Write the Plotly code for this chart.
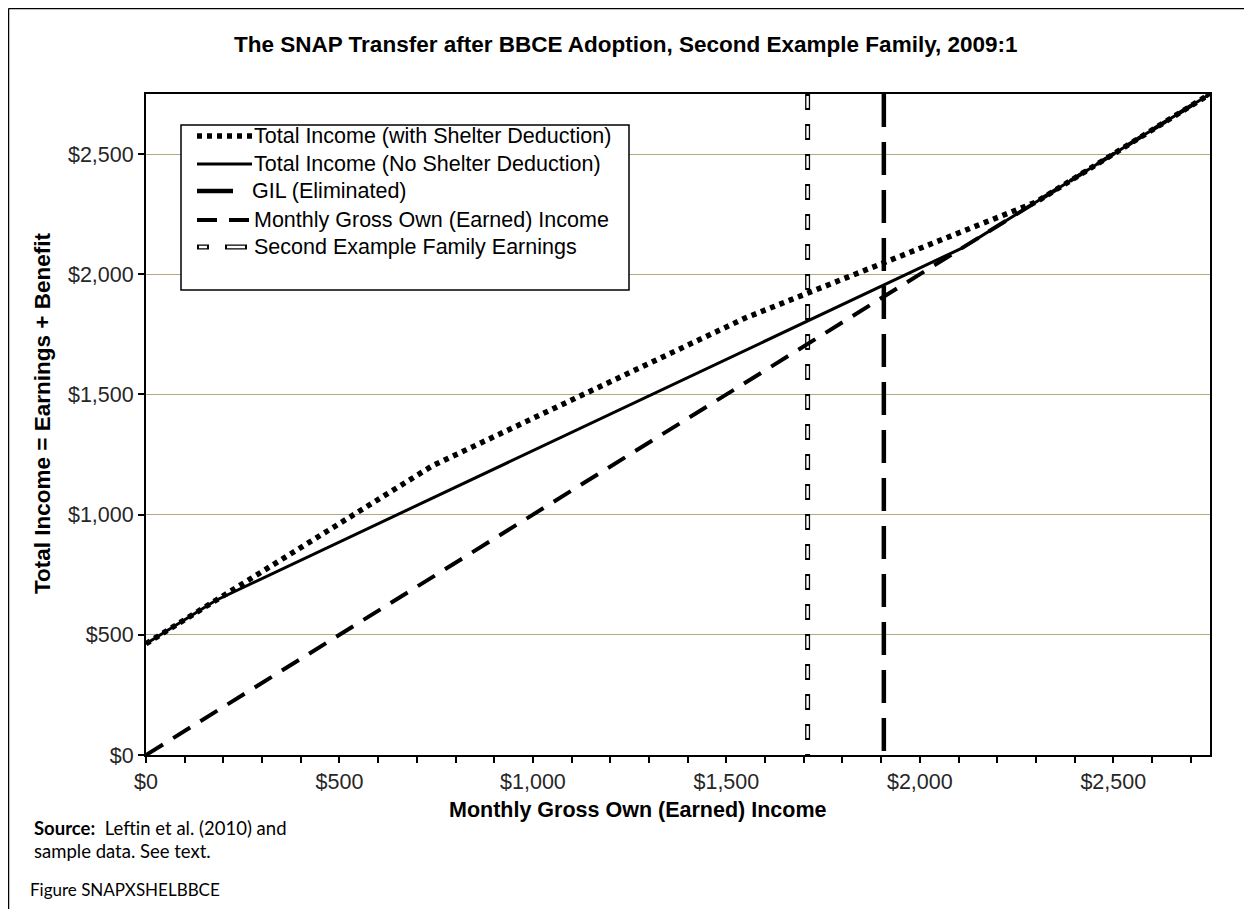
import plotly.graph_objects as go

# ---------------- data ----------------
earnings_no_shelter = [0, 180, 2109, 2750]
total_no_shelter = [463, 643, 2109, 2750]

earnings_with_shelter = [0, 740, 1550, 2300, 2750]
total_with_shelter = [463, 1203, 1819, 2300, 2750]

earnings_gross = [0, 2750]
gross_income = [0, 2750]

gil_eliminated = 1907
family_earnings = 1710
axis_max = 2750

x_ticks = [0, 500, 1000, 1500, 2000, 2500]
x_tick_labels = ["$0", "$500", "$1,000", "$1,500", "$2,000", "$2,500"]
y_ticks = [0, 500, 1000, 1500, 2000, 2500]
y_tick_labels = ["$0", "$500", "$1,000", "$1,500", "$2,000", "$2,500"]

legend_labels = [
    "Total Income (with Shelter Deduction)",
    "Total Income (No Shelter Deduction)",
    "GIL (Eliminated)",
    "Monthly Gross Own (Earned) Income",
    "Second Example Family Earnings",
]

# ---------------- layout geometry (page pixel coordinates) ----------------
OFF = 8                      # page body margin
PAGE_W, PAGE_H = 1252, 909
W, H = PAGE_W - OFF, PAGE_H - OFF
P_L, P_R, P_T, P_B = 146, 1210, 94, 755   # plot area edges on the page
L, R, T, B = P_L - OFF, W - (P_R - OFF), P_T - OFF, H - (P_B - OFF)
PW, PH = W - L - R, H - T - B
FONT = "Liberation Sans, Arial, sans-serif"


def fx(px):
    return (px - OFF - L) / PW


def fy(py):
    return (H - B - (py - OFF)) / PH


fig = go.Figure()

# vertical reference lines (drawn from top to bottom so dashes start at the top)
fig.add_trace(go.Scatter(x=[family_earnings, family_earnings], y=[axis_max, 0], mode="lines",
                         line=dict(color="black", width=5, dash="16px,14px"),
                         showlegend=False, hoverinfo="skip"))
fig.add_trace(go.Scatter(x=[family_earnings, family_earnings], y=[axis_max, 0], mode="lines",
                         line=dict(color="white", width=2.4, dash="0px,2px,12px,16px"),
                         showlegend=False, hoverinfo="skip"))
fig.add_trace(go.Scatter(x=[gil_eliminated, gil_eliminated], y=[axis_max, 0], mode="lines",
                         line=dict(color="black", width=4.5, dash="33px,15px"),
                         showlegend=False, hoverinfo="skip"))

# income lines
fig.add_trace(go.Scatter(x=earnings_gross, y=gross_income, mode="lines",
                         line=dict(color="black", width=4, dash="20px,12px"),
                         showlegend=False))
fig.add_trace(go.Scatter(x=earnings_no_shelter, y=total_no_shelter, mode="lines",
                         line=dict(color="black", width=3),
                         showlegend=False))
fig.add_trace(go.Scatter(x=earnings_with_shelter, y=total_with_shelter, mode="lines",
                         line=dict(color="black", width=5.5, dash="5px,5px"),
                         showlegend=False))

shapes = []
annotations = []

# outer frame (top and left edges)
shapes.append(dict(type="line", xref="paper", yref="paper", x0=fx(OFF + 0.5), x1=fx(PAGE_W), y0=fy(OFF + 0.5),
                   y1=fy(OFF + 0.5), line=dict(color="black", width=1.5)))
shapes.append(dict(type="line", xref="paper", yref="paper", x0=fx(OFF + 0.5), x1=fx(OFF + 0.5), y0=fy(OFF + 0.5),
                   y1=fy(PAGE_H), line=dict(color="black", width=1.5)))

# manual legend
lx0, lx1, ly0, ly1 = 181, 629, 125, 290
shapes.append(dict(type="rect", xref="paper", yref="paper", x0=fx(lx0), x1=fx(lx1), y0=fy(ly0), y1=fy(ly1),
                   line=dict(color="black", width=1.5), fillcolor="white", layer="above"))
row_y = [136, 164, 191, 220, 247]
sx0, sx1 = 197, 252
legend_styles = [
    [dict(color="black", width=5.5, dash="5px,5px")],
    [dict(color="black", width=3)],
    [dict(color="black", width=4.5, dash="36px,40px")],
    [dict(color="black", width=4, dash="20px,12px")],
    [dict(color="black", width=5, dash="12px,16px,22px,10px"),
     dict(color="white", width=2.4, dash="0px,2px,8px,20px,18px,12px")],
]
for ry, styles, lab in zip(row_y, legend_styles, legend_labels):
    for st in styles:
        shapes.append(dict(type="line", xref="paper", yref="paper", x0=fx(sx0), x1=fx(sx1), y0=fy(ry), y1=fy(ry),
                           line=st, layer="above"))
    text_x = 252 if lab != "GIL (Eliminated)" else 250
    annotations.append(dict(x=fx(text_x), y=fy(ry), xref="paper", yref="paper", text=lab, showarrow=False,
                            xanchor="left", yanchor="middle", font=dict(family=FONT, size=21.5, color="black")))

# title
annotations.append(dict(x=fx(626), y=fy(45), xref="paper", yref="paper",
                        text="<b>The SNAP Transfer after BBCE Adoption, Second Example Family, 2009:1</b>",
                        showarrow=False, xanchor="center", yanchor="middle",
                        font=dict(family=FONT, size=22.5, color="black")))

# axis titles
annotations.append(dict(x=fx(638), y=fy(810), xref="paper", yref="paper",
                        text="<b>Monthly Gross Own (Earned) Income</b>", showarrow=False,
                        xanchor="center", yanchor="middle", font=dict(family=FONT, size=21.5, color="black")))
annotations.append(dict(x=fx(43), y=fy(414), xref="paper", yref="paper",
                        text="<b>Total Income = Earnings + Benefit</b>", showarrow=False, textangle=-90,
                        xanchor="center", yanchor="middle", font=dict(family=FONT, size=22.5, color="black")))

# notes
NOTE_FONT = "Lato, Open Sans, sans-serif"
annotations.append(dict(x=fx(32), y=fy(828), xref="paper", yref="paper",
                        text="<b>Source:</b>  Leftin et al. (2010) and", showarrow=False,
                        xanchor="left", yanchor="middle", font=dict(family=NOTE_FONT, size=18.5, color="black")))
annotations.append(dict(x=fx(32), y=fy(851), xref="paper", yref="paper",
                        text="sample data. See text.", showarrow=False,
                        xanchor="left", yanchor="middle", font=dict(family=NOTE_FONT, size=18.5, color="black")))
annotations.append(dict(x=fx(28), y=fy(889), xref="paper", yref="paper",
                        text="Figure SNAPXSHELBBCE", showarrow=False,
                        xanchor="left", yanchor="middle", font=dict(family=NOTE_FONT, size=17, color="black")))

fig.update_layout(
    width=W, height=H,
    margin=dict(l=L, r=R, t=T, b=B),
    paper_bgcolor="white", plot_bgcolor="white",
    shapes=shapes,
    annotations=annotations,
    showlegend=False,
)

fig.update_xaxes(range=[0, axis_max], tickvals=x_ticks, ticktext=x_tick_labels,
                 showline=True, linecolor="black", linewidth=2, mirror=True,
                 ticks="outside", ticklen=6, tickwidth=1.5, tickcolor="black",
                 minor=dict(dtick=100, tick0=0, ticks="outside", ticklen=6, tickwidth=1.5, tickcolor="black"),
                 showgrid=False, zeroline=False,
                 tickfont=dict(family=FONT, size=21.5, color="#262626"))
fig.update_yaxes(range=[0, axis_max], tickvals=y_ticks, ticktext=y_tick_labels,
                 showline=True, linecolor="black", linewidth=2, mirror=True,
                 ticks="outside", ticklen=6, tickwidth=1.5, tickcolor="black",
                 showgrid=True, gridcolor="#B2A97E", gridwidth=1, zeroline=False,
                 tickfont=dict(family=FONT, size=21.5, color="#262626"))

fig.write_html("out.html")
